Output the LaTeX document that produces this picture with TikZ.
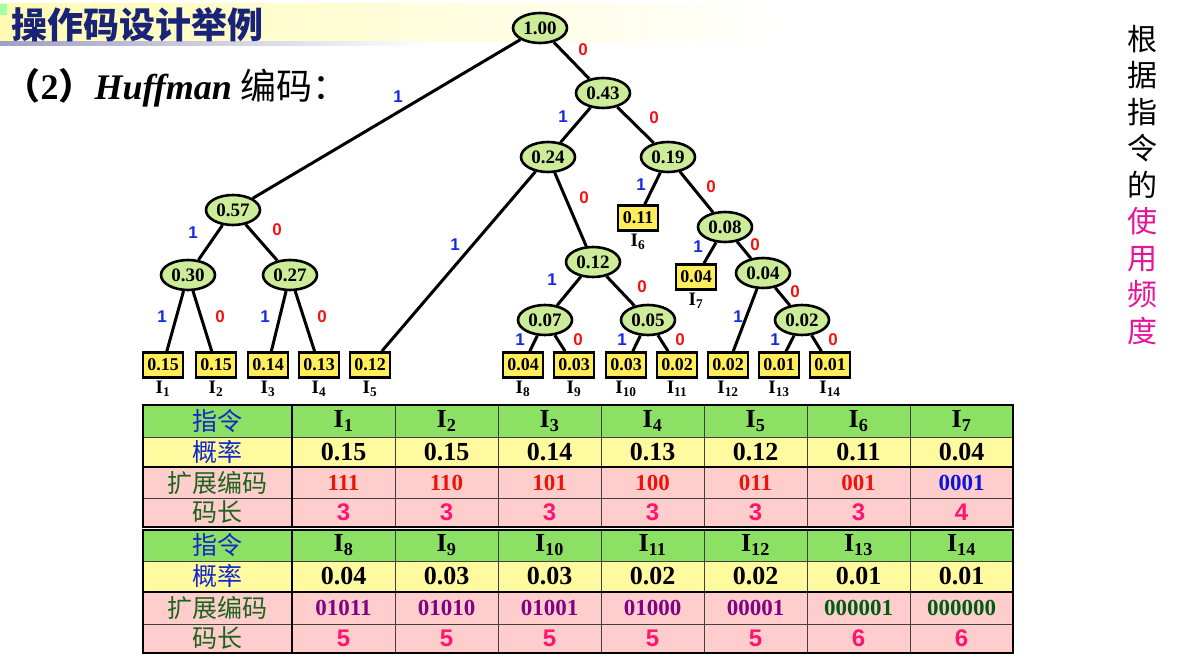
\documentclass[tikz,border=0pt]{standalone}
\usepackage{fontspec}
\usepackage[usenames,dvipsnames]{xcolor}
\usetikzlibrary{shapes.geometric}
\setmainfont{Liberation Serif}
\setsansfont{Liberation Sans}
\newfontfamily\cjk{Noto Sans CJK SC}
\newcommand\setfs[1]{\fontsize{#1}{#1}\selectfont}

\definecolor{nodegreen}{RGB}{204,236,153}
\definecolor{leafyellow}{RGB}{255,238,90}
\definecolor{rowgreen}{RGB}{140,224,100}
\definecolor{rowyellow}{RGB}{255,250,160}
\definecolor{rowpink}{RGB}{255,206,204}
\definecolor{bitblue}{RGB}{20,40,230}
\definecolor{bitred}{RGB}{240,20,20}
\definecolor{titleblue}{RGB}{25,35,120}
\definecolor{headblue}{RGB}{20,40,200}
\definecolor{headgreen}{RGB}{30,100,30}
\definecolor{codered}{RGB}{235,20,10}
\definecolor{codeblue}{RGB}{10,20,220}
\definecolor{codepurple}{RGB}{130,0,130}
\definecolor{codegreen}{RGB}{0,90,20}
\definecolor{lenpink}{RGB}{255,20,110}
\definecolor{usemagenta}{RGB}{230,20,150}

\tikzset{
  inner/.style={ellipse,draw,line width=2.6pt,fill=nodegreen,minimum width=54pt,
    minimum height=30pt,inner sep=0pt,font=\setfs{19}\bfseries},
  leaf/.style={draw,line width=2.6pt,fill=leafyellow,minimum width=40pt,
    minimum height=25pt,inner sep=0pt,font=\setfs{18}\bfseries,
    label={[font=\setfs{19}\bfseries,inner sep=1pt,yshift=-1.5pt]below:#1}},
  edge/.style={line width=3pt,black},
  one/.style={text=bitblue,font=\sffamily\bfseries\setfs{17}},
  zero/.style={text=bitred,font=\sffamily\bfseries\setfs{17}},
  rowname/.style={font=\cjk\setfs{25}},
  ihead/.style={font=\setfs{26}\bfseries},
  prob/.style={font=\setfs{26}\bfseries},
  code/.style={font=\setfs{23}\bfseries},
  len/.style={font=\sffamily\bfseries\setfs{24},text=lenpink},
  thinrule/.style={line width=0.9pt,black!75},
  thickrule/.style={line width=2.4pt,black}
}

\begin{document}
\begin{tikzpicture}[x=1pt,y=-1pt]
\useasboundingbox (0,0) rectangle (1178,668);
% title band
\shade[left color=rowyellow!80, right color=white] (0,4) rectangle (790,42);
\fill[green!35] (0,4) rectangle (7,15);
\shade[left color=blue!25!gray!60, right color=white] (0,42) rectangle (430,46);
\node[anchor=west,text=titleblue,font=\cjk\bfseries\setfs{36}] (title) at (8,25) {操作码设计举例};
\node[anchor=west,font=\setfs{36}\bfseries] (sub) at (1,88)
  {{\cjk （}2{\cjk ）}\textit{Huffman} {\cjk\mdseries 编码：}};
\node[align=center,font=\cjk\fontsize{30}{36.5}\selectfont] (side) at (1142,185)
  {根\\据\\指\\令\\的\\\textcolor{usemagenta}{使}\\\textcolor{usemagenta}{用}\\\textcolor{usemagenta}{频}\\\textcolor{usemagenta}{度}};

% tree
\node[inner] (t100) at (540,28) {1.00};
\node[inner] (t043) at (603,93) {0.43};
\node[inner] (t057) at (233,210) {0.57};
\node[inner] (t024) at (548,157) {0.24};
\node[inner] (t019) at (668,157) {0.19};
\node[inner] (t030) at (188,275) {0.30};
\node[inner] (t027) at (290,275) {0.27};
\node[inner] (t012) at (593,262) {0.12};
\node[inner] (t008) at (725,227) {0.08};
\node[inner] (t007) at (545,320) {0.07};
\node[inner] (t005) at (648,320) {0.05};
\node[inner] (t004) at (763,273) {0.04};
\node[inner] (t002) at (802,320) {0.02};
\node[leaf=I\textsubscript{1}] (l1) at (163,365) {0.15};
\node[leaf=I\textsubscript{2}] (l2) at (216,365) {0.15};
\node[leaf=I\textsubscript{3}] (l3) at (268,365) {0.14};
\node[leaf=I\textsubscript{4}] (l4) at (319,365) {0.13};
\node[leaf=I\textsubscript{5}] (l5) at (370,365) {0.12};
\node[leaf=I\textsubscript{6}] (l6) at (638,218) {0.11};
\node[leaf=I\textsubscript{7}] (l7) at (696,277) {0.04};
\node[leaf=I\textsubscript{8}] (l8) at (523,365) {0.04};
\node[leaf=I\textsubscript{9}] (l9) at (574,365) {0.03};
\node[leaf=I\textsubscript{10}] (l10) at (626,365) {0.03};
\node[leaf=I\textsubscript{11}] (l11) at (677,365) {0.02};
\node[leaf=I\textsubscript{12}] (l12) at (728,365) {0.02};
\node[leaf=I\textsubscript{13}] (l13) at (779,365) {0.01};
\node[leaf=I\textsubscript{14}] (l14) at (830,365) {0.01};
\draw[edge] (t100) -- (t057) (t100) -- (t043) (t043) -- (t024) (t043) -- (t019)
  (t057) -- (t030) (t057) -- (t027) (t030) -- (l1) (t030) -- (l2) (t027) -- (l3) (t027) -- (l4)
  (t024) -- (l5) (t024) -- (t012) (t019) -- (l6) (t019) -- (t008) (t008) -- (l7) (t008) -- (t004)
  (t012) -- (t007) (t012) -- (t005) (t007) -- (l8) (t007) -- (l9) (t005) -- (l10) (t005) -- (l11)
  (t004) -- (l12) (t004) -- (t002) (t002) -- (l13) (t002) -- (l14);
\node[one] (b057) at (398,97) {1};   \node[zero] (b043) at (583,50) {0};
\node[one] (b024) at (563,117) {1};  \node[zero] (b019) at (654,118) {0};
\node[one] (b5) at (455,245) {1};    \node[zero] (b012) at (584,198) {0};
\node[one] (b6) at (641,185) {1};    \node[zero] (b008) at (711,187) {0};
\node[one] (b7) at (698,247) {1};    \node[zero] (b004) at (755,245) {0};
\node[one] (b12) at (738,317) {1};   \node[zero] (b002) at (795,292) {0};
\node[one] (b13) at (775,340) {1};   \node[zero] (b14) at (833,340) {0};
\node[one] (b007) at (552,280) {1};  \node[zero] (b005) at (642,287) {0};
\node[one] (b8) at (520,340) {1};    \node[zero] (b9) at (578,340) {0};
\node[one] (b10) at (622,340) {1};   \node[zero] (b11) at (680,340) {0};
\node[one] (b030) at (193,233) {1};  \node[zero] (b027) at (277,230) {0};
\node[one] (b1) at (162,317) {1};    \node[zero] (b2) at (220,317) {0};
\node[one] (b3) at (265,317) {1};    \node[zero] (b4) at (322,317) {0};

% table I1--I7
\fill[rowgreen] (143,405) rectangle (1013,437);
\fill[rowyellow] (143,437) rectangle (1013,467);
\fill[rowpink] (143,467) rectangle (1013,527);
\draw[thinrule] (143,437) -- (1013,437) (143,498) -- (1013,498)
  (395,405) -- (395,527) (498,405) -- (498,527) (601,405) -- (601,527)
  (704,405) -- (704,527) (807,405) -- (807,527) (910,405) -- (910,527);
\draw[thickrule] (143,467) -- (1013,467) (292,405) -- (292,527);
\draw[thickrule] (143,405) rectangle (1013,527);
\node[rowname,text=headblue] (ra1) at (217.5,421) {指令};
\node[rowname,text=headblue] (rb1) at (217.5,452) {概率};
\node[rowname,text=headgreen] (rc1) at (217.5,482.5) {扩展编码};
\node[rowname,text=headgreen] (rd1) at (217.5,512.5) {码长};
\node[ihead] (h1) at (343.5,421) {I\textsubscript{1}}; \node[ihead] (h2) at (446.5,421) {I\textsubscript{2}};
\node[ihead] (h3) at (549.5,421) {I\textsubscript{3}}; \node[ihead] (h4) at (652.5,421) {I\textsubscript{4}};
\node[ihead] (h5) at (755.5,421) {I\textsubscript{5}}; \node[ihead] (h6) at (858.5,421) {I\textsubscript{6}};
\node[ihead] (h7) at (961.5,421) {I\textsubscript{7}};
\node[prob] (p1) at (343.5,452) {0.15}; \node[prob] (p2) at (446.5,452) {0.15};
\node[prob] (p3) at (549.5,452) {0.14}; \node[prob] (p4) at (652.5,452) {0.13};
\node[prob] (p5) at (755.5,452) {0.12}; \node[prob] (p6) at (858.5,452) {0.11};
\node[prob] (p7) at (961.5,452) {0.04};
\node[code,text=codered] (k1) at (343.5,482.5) {111}; \node[code,text=codered] (k2) at (446.5,482.5) {110};
\node[code,text=codered] (k3) at (549.5,482.5) {101}; \node[code,text=codered] (k4) at (652.5,482.5) {100};
\node[code,text=codered] (k5) at (755.5,482.5) {011}; \node[code,text=codered] (k6) at (858.5,482.5) {001};
\node[code,text=codeblue] (k7) at (961.5,482.5) {0001};
\node[len] (n1) at (343.5,512.5) {3}; \node[len] (n2) at (446.5,512.5) {3};
\node[len] (n3) at (549.5,512.5) {3}; \node[len] (n4) at (652.5,512.5) {3};
\node[len] (n5) at (755.5,512.5) {3}; \node[len] (n6) at (858.5,512.5) {3};
\node[len] (n7) at (961.5,512.5) {4};

% table I8--I14
\fill[rowgreen] (143,530) rectangle (1013,561);
\fill[rowyellow] (143,561) rectangle (1013,592);
\fill[rowpink] (143,592) rectangle (1013,653);
\draw[thinrule] (143,561) -- (1013,561) (143,624) -- (1013,624)
  (395,530) -- (395,653) (498,530) -- (498,653) (601,530) -- (601,653)
  (704,530) -- (704,653) (807,530) -- (807,653) (910,530) -- (910,653);
\draw[thickrule] (143,592) -- (1013,592) (292,530) -- (292,653);
\draw[thickrule] (143,530) rectangle (1013,653);
\node[rowname,text=headblue] (ra2) at (217.5,545) {指令};
\node[rowname,text=headblue] (rb2) at (217.5,576) {概率};
\node[rowname,text=headgreen] (rc2) at (217.5,608) {扩展编码};
\node[rowname,text=headgreen] (rd2) at (217.5,638.5) {码长};
\node[ihead] (h8) at (343.5,545) {I\textsubscript{8}}; \node[ihead] (h9) at (446.5,545) {I\textsubscript{9}};
\node[ihead] (h10) at (549.5,545) {I\textsubscript{10}}; \node[ihead] (h11) at (652.5,545) {I\textsubscript{11}};
\node[ihead] (h12) at (755.5,545) {I\textsubscript{12}}; \node[ihead] (h13) at (858.5,545) {I\textsubscript{13}};
\node[ihead] (h14) at (961.5,545) {I\textsubscript{14}};
\node[prob] (p8) at (343.5,576) {0.04}; \node[prob] (p9) at (446.5,576) {0.03};
\node[prob] (p10) at (549.5,576) {0.03}; \node[prob] (p11) at (652.5,576) {0.02};
\node[prob] (p12) at (755.5,576) {0.02}; \node[prob] (p13) at (858.5,576) {0.01};
\node[prob] (p14) at (961.5,576) {0.01};
\node[code,text=codepurple] (k8) at (343.5,608) {01011}; \node[code,text=codepurple] (k9) at (446.5,608) {01010};
\node[code,text=codepurple] (k10) at (549.5,608) {01001}; \node[code,text=codepurple] (k11) at (652.5,608) {01000};
\node[code,text=codepurple] (k12) at (755.5,608) {00001}; \node[code,text=codegreen] (k13) at (858.5,608) {000001};
\node[code,text=codegreen] (k14) at (961.5,608) {000000};
\node[len] (n8) at (343.5,638.5) {5}; \node[len] (n9) at (446.5,638.5) {5};
\node[len] (n10) at (549.5,638.5) {5}; \node[len] (n11) at (652.5,638.5) {5};
\node[len] (n12) at (755.5,638.5) {5}; \node[len] (n13) at (858.5,638.5) {6};
\node[len] (n14) at (961.5,638.5) {6};
\end{tikzpicture}
\end{document}
